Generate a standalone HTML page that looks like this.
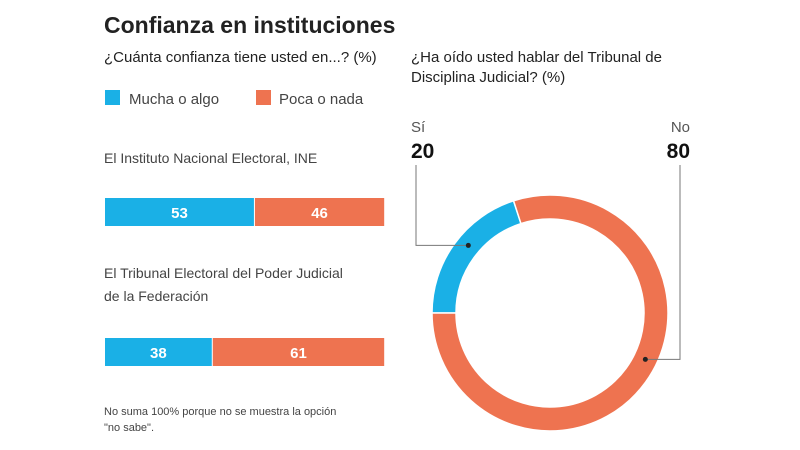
<!DOCTYPE html>
<html><head><meta charset="utf-8"><style>
html,body{margin:0;padding:0;background:#fff;}
svg{display:block;font-family:"Liberation Sans",sans-serif;}
</style></head><body>
<svg id="c" width="800" height="450" viewBox="0 0 800 450">
<text x="104" y="33" font-size="23" font-weight="bold" fill="#222">Confianza en instituciones</text>
<text x="104" y="62" font-size="15" fill="#222">¿Cuánta confianza tiene usted en...? (%)</text>
<rect x="105" y="90" width="15" height="15" fill="#1ab0e6"/>
<text x="129" y="104" font-size="15" fill="#444">Mucha o algo</text>
<rect x="256" y="90" width="15" height="15" fill="#ee7350"/>
<text x="279" y="104" font-size="15" fill="#444">Poca o nada</text>
<text x="104" y="163" font-size="14" fill="#444">El Instituto Nacional Electoral, INE</text>
<text x="104" y="278" font-size="14" fill="#444">El Tribunal Electoral del Poder Judicial</text>
<text x="104" y="301" font-size="14" fill="#444">de la Federación</text>
<g id="bars"></g>
<text x="104" y="415" font-size="11" fill="#444">No suma 100% porque no se muestra la opción</text>
<text x="104" y="431" font-size="11" fill="#444">"no sabe".</text>
<text x="411" y="62" font-size="15" fill="#222">¿Ha oído usted hablar del Tribunal de</text>
<text x="411" y="82" font-size="15" fill="#222">Disciplina Judicial?  (%)</text>
<g id="donut"></g>
</svg>
<script>
const barCategories = ["INE", "TEPJF"];
const muchaValues = [53, 38];
const pocaValues = [46, 61];
const donutLabels = ["Sí", "No"];
const donutValues = [20, 80];

const NS = "http://www.w3.org/2000/svg";
function mk(tag, attrs, parent) {
  const e = document.createElementNS(NS, tag);
  for (const k in attrs) e.setAttribute(k, attrs[k]);
  parent.appendChild(e);
  return e;
}
const x0 = 105, barW = 281;
const xs = v => v / 100 * barW;
const barY = [198, 338], barH = 28;
const bars = document.getElementById("bars");
barCategories.forEach((c, i) => {
  const wa = xs(muchaValues[i]);
  const a = mk("rect", {x: x0, y: barY[i], width: wa, height: barH, fill: "#1ab0e6"}, bars);
  
  
  const wb = xs(pocaValues[i]);
  const b = mk("rect", {x: x0 + wa + 1, y: barY[i], width: wb, height: barH, fill: "#ee7350"}, bars);
  
  
  const ta = mk("text", {x: x0 + wa / 2, y: barY[i] + 20, "text-anchor": "middle", "font-size": "15", "font-weight": "bold", fill: "#fff"}, bars);
  ta.textContent = muchaValues[i];
  
  
  const tb = mk("text", {x: x0 + wa + 1 + wb / 2, y: barY[i] + 20, "text-anchor": "middle", "font-size": "15", "font-weight": "bold", fill: "#fff"}, bars);
  tb.textContent = pocaValues[i];
  
  
});

const cx = 550, cy = 313, R = 118, r = 94;
const donut = document.getElementById("donut");
const total = donutValues.reduce((s, v) => s + v, 0);
const colors = ["#1ab0e6", "#ee7350"];
const dotFrac = [0.55, 0.465];
function pt(rad, ang) { const a = ang * Math.PI / 180; return [cx + rad * Math.sin(a), cy - rad * Math.cos(a)]; }
let start = 342 - donutValues[0] / total * 360;
const mids = [];
donutValues.forEach((v, i) => {
  const sweep = v / total * 360;
  const end = start + sweep;
  const large = sweep > 180 ? 1 : 0;
  const p1 = pt(R, start), p2 = pt(R, end), p3 = pt(r, end), p4 = pt(r, start);
  const d = `M${p1[0]},${p1[1]} A${R},${R} 0 ${large} 1 ${p2[0]},${p2[1]} L${p3[0]},${p3[1]} A${r},${r} 0 ${large} 0 ${p4[0]},${p4[1]} Z`;
  const p = mk("path", {d: d, fill: colors[i], stroke: "#fff", "stroke-width": "1.5"}, donut);
  
  
  mids.push(start + sweep * dotFrac[i]);
  start = end;
});
const labelX = [411, 690], anchors = ["start", "end"], lineX = [416, 680];
donutValues.forEach((v, i) => {
  const m = pt((R + r) / 2, mids[i]);
  const l = mk("polyline", {points: `${lineX[i]},165 ${lineX[i]},${m[1]} ${m[0]},${m[1]}`, fill: "none", stroke: "#777", "stroke-width": "1"}, donut);
  
  
  const dot = mk("circle", {cx: m[0], cy: m[1], r: 2.5, fill: "#222"}, donut);
  
  
  const t1 = mk("text", {x: labelX[i], y: 132, "text-anchor": anchors[i], "font-size": "15", fill: "#555"}, donut);
  t1.textContent = donutLabels[i];
  
  
  const t2 = mk("text", {x: labelX[i], y: 158, "text-anchor": anchors[i], "font-size": "21", "font-weight": "bold", fill: "#111"}, donut);
  t2.textContent = v;
  
  
});
</script>
</body></html>
